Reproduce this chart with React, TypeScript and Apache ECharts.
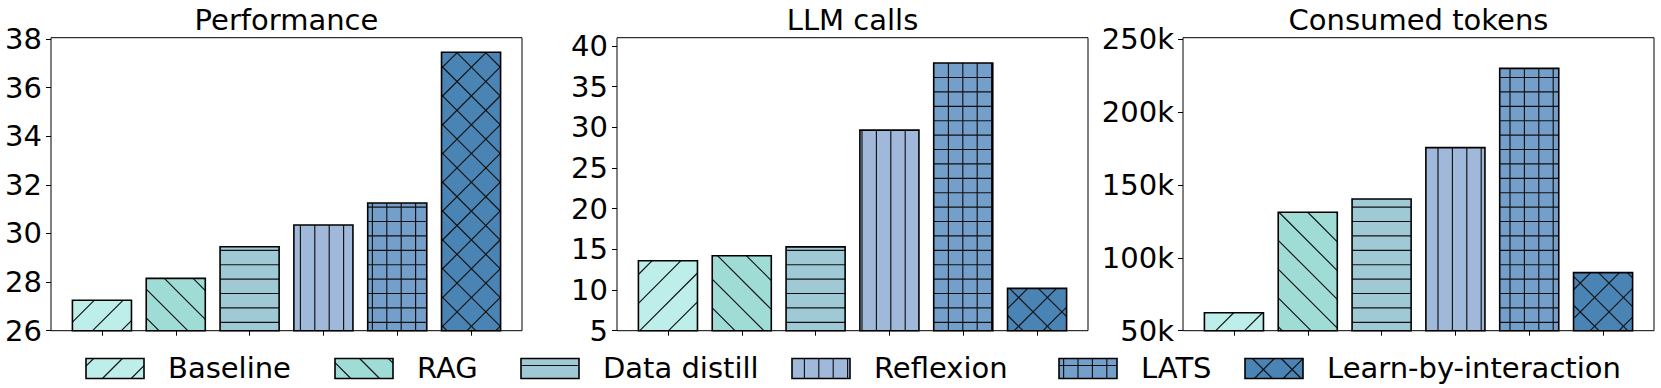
import React, { useEffect, useRef } from "react";
import * as echarts from "echarts";

// ---------------- data ----------------
const methods = ["Baseline", "RAG", "Data distill", "Reflexion", "LATS", "Learn-by-interaction"];
const hatches = ["/", "\\", "-", "|", "+", "x"];
const colors = ["#bdeee9", "#a0dcd6", "#a0c9d6", "#a0b9da", "#739fca", "#4a84b4"];
const panelTitles = ["Performance", "LLM calls", "Consumed tokens"];

const performance = [27.25, 28.15, 29.45, 30.35, 31.25, 37.45];
const llmCalls = [13.6, 14.2, 15.3, 29.65, 37.9, 10.2];
const consumedTokens = [62300, 131200, 140300, 175500, 229900, 89800];

const perfTicks = [26, 28, 30, 32, 34, 36, 38];
const callTicks = [5, 10, 15, 20, 25, 30, 35, 40];
const tokenTicks = [50000, 100000, 150000, 200000, 250000];

const perfRange = [26, 38.05];
const callRange = [5, 41];
const tokenRange = [50000, 250900];

// ---------------- layout / style ----------------
const FONT = "DejaVu Sans";
const FS = 29;
const gridLefts = [51, 617, 1183];
const GRID_W = 471;
const GRID_TOP = 37.7;
const GRID_H = 293;
const S = 14.4; // hatch spacing
const D = 2 * S; // diagonal horizontal spacing
const AY = 322.3;
const AX = 300.4;
const AC1 = 509.7;
const AC2 = 404.3;
const HATCH_COLOR = "#111";
const HATCH_W = 1.15;

function hatchSegs(h: string, x0: number, y0: number, x1: number, y1: number): number[][] {
  const segs: number[][] = [];
  const horiz = h === "-" || h === "+";
  const vert = h === "|" || h === "+";
  const ne = h === "/" || h === "x";
  const nw = h === "\\" || h === "x";
  if (horiz) {
    const k0 = Math.ceil((y0 - AY) / S);
    for (let k = k0; AY + k * S < y1; k++) {
      const y = AY + k * S;
      if (y > y0 + 0.5 && y < y1 - 0.5) segs.push([x0, y, x1, y]);
    }
  }
  if (vert) {
    const k0 = Math.ceil((x0 - AX) / S);
    for (let k = k0; AX + k * S < x1; k++) {
      const x = AX + k * S;
      if (x > x0 + 0.5 && x < x1 - 0.5) segs.push([x, y0, x, y1]);
    }
  }
  if (ne) {
    const cmin = x0 + y0, cmax = x1 + y1;
    const k0 = Math.ceil((cmin - AC1) / D);
    for (let k = k0; AC1 + k * D < cmax; k++) {
      const c = AC1 + k * D;
      const xa = Math.max(x0, c - y1);
      const xb = Math.min(x1, c - y0);
      if (xb - xa > 0.3) segs.push([xa, c - xa, xb, c - xb]);
    }
  }
  if (nw) {
    const cmin = x0 - y1, cmax = x1 - y0;
    const k0 = Math.ceil((cmin - AC2) / D);
    for (let k = k0; AC2 + k * D < cmax; k++) {
      const c = AC2 + k * D;
      const xa = Math.max(x0, c + y0);
      const xb = Math.min(x1, c + y1);
      if (xb - xa > 0.3) segs.push([xa, xa - c, xb, xb - c]);
    }
  }
  return segs;
}

function hatchedBox(h: string, color: string, x0: number, y0: number, x1: number, y1: number, edgeW: number): any[] {
  const children: any[] = [];
  children.push({
    type: "rect",
    shape: { x: x0, y: y0, width: x1 - x0, height: y1 - y0 },
    style: { fill: color, stroke: "none" },
  });
  hatchSegs(h, x0, y0, x1, y1).forEach((s) => {
    children.push({
      type: "line",
      shape: { x1: s[0], y1: s[1], x2: s[2], y2: s[3] },
      style: { stroke: HATCH_COLOR, lineWidth: HATCH_W, fill: "none" },
    });
  });
  children.push({
    type: "rect",
    shape: { x: x0, y: y0, width: x1 - x0, height: y1 - y0 },
    style: { fill: "none", stroke: "#000", lineWidth: edgeW },
  });
  return children;
}

const legendIconX = [86, 335, 521, 792, 1059, 1245];
const LEG_ICON_W = 58;
const LEG_ICON_H = 20;
const LEG_ICON_Y = 358.5;
const LEG_TEXT_PAD = 24;
const LEG_TEXT_Y = 368;

export default function App() {
  const ref = useRef<HTMLDivElement>(null);

  useEffect(() => {
    if (!ref.current) return;
    const chart = echarts.init(ref.current, undefined, { renderer: "svg" });

    const panels = [
      { values: performance, ticks: perfTicks, range: perfRange, fmt: (v: number) => String(v) },
      { values: llmCalls, ticks: callTicks, range: callRange, fmt: (v: number) => String(v) },
      { values: consumedTokens, ticks: tokenTicks, range: tokenRange, fmt: (v: number) => v / 1000 + "k" },
    ];

    const grids = panels.map((_, i) => ({
      left: gridLefts[i],
      top: GRID_TOP,
      width: GRID_W,
      height: GRID_H,
      show: true,
      borderColor: "#000",
      borderWidth: 1,
      backgroundColor: "transparent",
      containLabel: false,
      outerBoundsMode: "none",
    }));

    const xAxes = panels.map((_, i) => ({
      type: "value",
      gridIndex: i,
      min: -0.69,
      max: 5.69,
      axisLine: { show: false, onZero: false },
      axisTick: {
        show: true,
        length: 5,
        customValues: [0, 1, 2, 3, 4, 5],
        lineStyle: { color: "#000", width: 1 },
      },
      axisLabel: { show: false },
      splitLine: { show: false },
    }));

    const yAxes = panels.map((p, i) => ({
      type: "value",
      gridIndex: i,
      min: p.range[0],
      max: p.range[1],
      axisLine: { show: false, onZero: false },
      axisTick: {
        show: true,
        length: 5,
        customValues: p.ticks,
        lineStyle: { color: "#000", width: 1 },
      },
      axisLabel: {
        show: true,
        customValues: p.ticks,
        formatter: p.fmt,
        color: "#000",
        fontFamily: FONT,
        fontSize: FS,
        margin: 9,
      },
      splitLine: { show: false },
    }));

    const series = panels.map((p, i) => ({
      type: "custom",
      xAxisIndex: i,
      yAxisIndex: i,
      clip: false,
      encode: { x: 0, y: 1 },
      data: p.values.map((v, j) => [j, v]),
      renderItem: (params: any, api: any) => {
        const j = api.value(0);
        const v = api.value(1);
        const a = api.coord([j - 0.4, v]);
        const b = api.coord([j + 0.4, p.range[0]]);
        return {
          type: "group",
          children: hatchedBox(hatches[j], colors[j], a[0], a[1], b[0], b[1], 1.6),
        };
      },
    }));

    const graphics: any[] = [];
    panelTitles.forEach((t, i) => {
      graphics.push({
        type: "text",
        x: gridLefts[i] + GRID_W / 2,
        y: 20,
        style: {
          text: t,
          fill: "#000",
          fontFamily: FONT,
          fontSize: FS,
          textAlign: "center",
          textVerticalAlign: "middle",
          verticalAlign: "middle",
        },
      });
    });
    methods.forEach((m, i) => {
      const x0 = legendIconX[i];
      graphics.push({
        type: "group",
        children: hatchedBox(hatches[i], colors[i], x0, LEG_ICON_Y, x0 + LEG_ICON_W, LEG_ICON_Y + LEG_ICON_H, 1.6),
      });
      graphics.push({
        type: "text",
        x: x0 + LEG_ICON_W + LEG_TEXT_PAD,
        y: LEG_TEXT_Y,
        style: {
          text: m,
          fill: "#000",
          fontFamily: FONT,
          fontSize: FS,
          textAlign: "left",
          textVerticalAlign: "middle",
          verticalAlign: "middle",
        },
      });
    });

    chart.setOption({
      animation: false,
      backgroundColor: "#fff",
      grid: grids,
      xAxis: xAxes,
      yAxis: yAxes,
      series,
      graphic: graphics,
    } as any);

    return () => chart.dispose();
  }, []);

  return (
    <div
      ref={ref}
      style={{ position: "fixed", left: 0, top: 0, width: 1661, height: 388, background: "#fff" }}
    />
  );
}
